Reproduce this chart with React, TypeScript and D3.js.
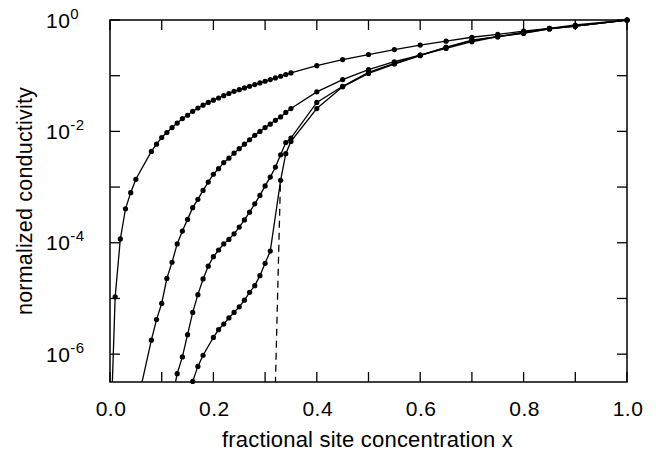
import React from "react";
import * as d3 from "d3";

// series (x = fractional site concentration, y = normalized conductivity)
const xA = [0.0, 0.01, 0.02, 0.03, 0.04, 0.05, 0.08, 0.09, 0.1, 0.11, 0.12, 0.13, 0.14, 0.15, 0.16, 0.17, 0.18, 0.19, 0.2, 0.21, 0.22, 0.23, 0.24, 0.25, 0.26, 0.27, 0.28, 0.29, 0.3, 0.31, 0.32, 0.33, 0.34, 0.35, 0.4, 0.45, 0.5, 0.55, 0.6, 0.65, 0.7, 0.75, 0.8, 0.85, 0.9, 1.0];
const yA = [1.6e-8, 1.07e-5, 1.17e-4, 4.07e-4, 7.94e-4, 1.38e-3, 4.37e-3, 5.89e-3, 7.76e-3, 9.55e-3, 1.17e-2, 1.41e-2, 1.7e-2, 1.95e-2, 2.29e-2, 2.63e-2, 2.95e-2, 3.31e-2, 3.63e-2, 3.98e-2, 4.37e-2, 4.79e-2, 5.25e-2, 5.62e-2, 6.03e-2, 6.46e-2, 6.92e-2, 7.41e-2, 7.94e-2, 8.51e-2, 9.12e-2, 9.77e-2, 0.105, 0.112, 0.151, 0.195, 0.24, 0.295, 0.355, 0.417, 0.49, 0.55, 0.631, 0.708, 0.813, 1];

const xB = [0.05, 0.08, 0.09, 0.1, 0.11, 0.12, 0.13, 0.14, 0.15, 0.16, 0.17, 0.18, 0.19, 0.2, 0.21, 0.22, 0.23, 0.24, 0.25, 0.26, 0.27, 0.28, 0.29, 0.3, 0.31, 0.32, 0.33, 0.34, 0.35, 0.4, 0.45, 0.5, 0.55, 0.6, 0.65, 0.7, 0.75, 0.8, 0.85, 0.9, 1.0];
const yB = [1.0e-7, 1.78e-6, 4.17e-6, 8.13e-6, 2.29e-5, 4.47e-5, 9.55e-5, 1.62e-4, 2.63e-4, 4.27e-4, 6.03e-4, 8.71e-4, 1.23e-3, 1.7e-3, 2.14e-3, 2.75e-3, 3.31e-3, 4.07e-3, 4.9e-3, 5.89e-3, 7.08e-3, 8.51e-3, 1.0e-2, 1.17e-2, 1.35e-2, 1.58e-2, 1.82e-2, 2.19e-2, 2.57e-2, 5.13e-2, 8.51e-2, 0.129, 0.178, 0.234, 0.309, 0.407, 0.501, 0.603, 0.708, 0.776, 1];

const xC = [0.12, 0.13, 0.14, 0.15, 0.16, 0.17, 0.18, 0.19, 0.2, 0.21, 0.22, 0.23, 0.24, 0.25, 0.26, 0.27, 0.28, 0.29, 0.3, 0.31, 0.32, 0.33, 0.34, 0.35, 0.4, 0.45, 0.5, 0.55, 0.6, 0.65, 0.7, 0.75, 0.8, 0.85, 0.9, 1.0];
const yC = [1.58e-7, 4.47e-7, 8.91e-7, 2.24e-6, 5.62e-6, 1.17e-5, 2.24e-5, 3.8e-5, 5.62e-5, 7.41e-5, 9.55e-5, 1.15e-4, 1.45e-4, 1.91e-4, 2.57e-4, 3.55e-4, 5.01e-4, 7.08e-4, 1.05e-3, 1.51e-3, 2.29e-3, 3.8e-3, 6.31e-3, 7.59e-3, 3.31e-2, 6.46e-2, 0.115, 0.166, 0.234, 0.324, 0.437, 0.501, 0.589, 0.692, 0.776, 1];

const xD = [0.15, 0.16, 0.17, 0.18, 0.2, 0.21, 0.22, 0.23, 0.24, 0.25, 0.26, 0.27, 0.28, 0.29, 0.3, 0.31, 0.33, 0.34, 0.35, 0.4, 0.45, 0.5, 0.55, 0.6, 0.65, 0.7, 0.75, 0.8, 0.85, 0.9, 1.0];
const yD = [1.26e-7, 3.24e-7, 6.03e-7, 9.55e-7, 2.0e-6, 2.75e-6, 3.47e-6, 4.47e-6, 5.62e-6, 7.08e-6, 9.33e-6, 1.29e-5, 1.7e-5, 2.57e-5, 4.27e-5, 7.08e-5, 1.32e-3, 3.98e-3, 6.61e-3, 2.57e-2, 6.31e-2, 0.11, 0.162, 0.229, 0.324, 0.427, 0.501, 0.575, 0.692, 0.776, 1];

// dashed extrapolation to the threshold
const xDash = [0.3295, 0.3195];
const yDash = [1.1e-3, 2.0e-7];

const xTicks = [0, 0.1, 0.2, 0.3, 0.4, 0.5, 0.6, 0.7, 0.8, 0.9, 1.0];
const xLabels = ["0.0", "0.2", "0.4", "0.6", "0.8", "1.0"];
const yTicks = [1, 1e-1, 1e-2, 1e-3, 1e-4, 1e-5, 1e-6];
const yLabelExp = ["0", "-2", "-4", "-6"];

const series = [
  [xA, yA],
  [xB, yB],
  [xC, yC],
  [xD, yD],
];

const W = 656;
const H = 453;
const m = { left: 110, right: 29, top: 20, bottom: 71 };
const font = "Liberation Sans, Arial, Helvetica, sans-serif";

export default function App() {
  const x = d3.scaleLinear().domain([0, 1]).range([m.left, W - m.right]);
  const yMin = Math.pow(10, -6.5);
  const y = d3.scaleLog().domain([yMin, 1]).range([H - m.bottom, m.top]);

  const line = d3
    .line<[number, number]>()
    .x((d) => x(d[0]))
    .y((d) => y(d[1]));

  const x0 = x(0);
  const x1 = x(1);
  const y0 = y(yMin);
  const y1 = y(1);
  const tk = 10;

  return (
    <svg
      width={W}
      height={H}
      style={{ position: "absolute", left: 0, top: 0, background: "#fff" }}
      fontFamily={font}
    >
      <defs>
        <clipPath id="plot">
          <rect x={x0} y={y1} width={x1 - x0} height={y0 - y1} />
        </clipPath>
      </defs>

      {/* curves */}
      <g clipPath="url(#plot)" fill="none" stroke="#000" strokeWidth={1.3}>
        {series.map(([xs, ys], i) => (
          <path key={i} d={line(xs.map((v, j) => [v, ys[j]]) as [number, number][]) || ""} />
        ))}
        <path
          d={line(xDash.map((v, j) => [v, yDash[j]]) as [number, number][]) || ""}
          strokeDasharray="7,5"
        />
      </g>
      <g fill="#000">
        {series.map(([xs, ys], i) =>
          xs.map((v, j) =>
            ys[j] >= yMin * 0.93 ? <circle key={i + "-" + j} cx={x(v)} cy={y(ys[j])} r={2.6} /> : null
          )
        )}
      </g>

      {/* frame */}
      <rect x={x0} y={y1} width={x1 - x0} height={y0 - y1} fill="none" stroke="#000" strokeWidth={1.5} />

      {/* ticks */}
      <g stroke="#000" strokeWidth={1.3}>
        {xTicks.map((t) => (
          <g key={"xt" + t}>
            <line x1={x(t)} x2={x(t)} y1={y0} y2={y0 - tk} />
            <line x1={x(t)} x2={x(t)} y1={y1} y2={y1 + tk} />
          </g>
        ))}
        {yTicks.map((t) => (
          <g key={"yt" + t}>
            <line x1={x0} x2={x0 + tk} y1={y(t)} y2={y(t)} />
            <line x1={x1} x2={x1 - tk} y1={y(t)} y2={y(t)} />
          </g>
        ))}
      </g>

      {/* tick labels */}
      <g fontSize={21} fill="#000" letterSpacing={0.5}>
        {xLabels.map((s) => (
          <text key={s} x={x(+s) + 1} y={416} textAnchor="middle">
            {s}
          </text>
        ))}
        {yLabelExp.map((e) => (
          <text key={e} x={46} y={y(Math.pow(10, +e)) + 7.5}>
            10
            <tspan fontSize={15} dy={-9}>
              {e}
            </tspan>
          </text>
        ))}
      </g>

      {/* axis titles */}
      <text x={(x0 + x1) / 2 - 1} y={447} textAnchor="middle" fontSize={22} letterSpacing={0.2} fill="#000">
        fractional site concentration x
      </text>
      <text
        transform={`translate(32, ${(y0 + y1) / 2}) rotate(-90)`}
        textAnchor="middle"
        fontSize={21.5}
        letterSpacing={0.2}
        fill="#000"
      >
        normalized conductivity
      </text>
    </svg>
  );
}
